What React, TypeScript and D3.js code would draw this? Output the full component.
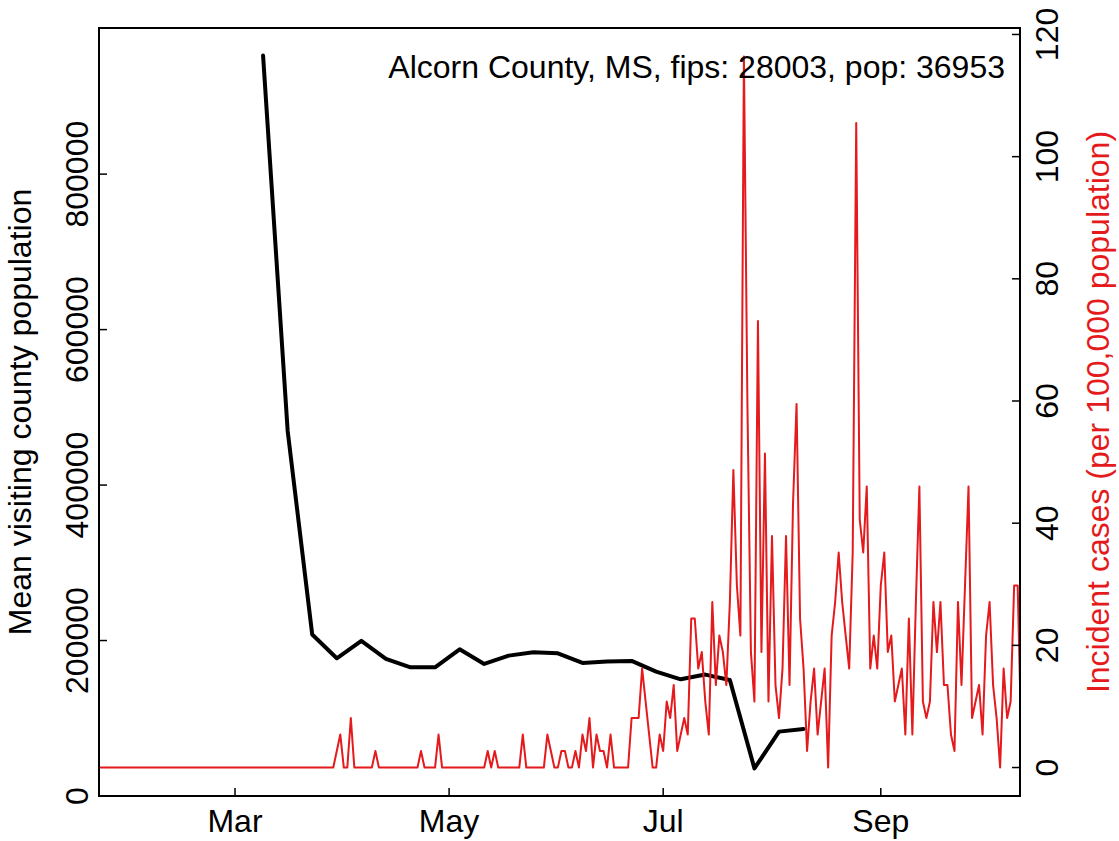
import { useEffect, useRef } from 'react';
import * as d3 from 'd3';

const WIDTH = 1119;
const HEIGHT = 841;

// weekly mean visiting county population (black line)
const visitDates = [
  '2020-03-09', '2020-03-16', '2020-03-23', '2020-03-30', '2020-04-06', '2020-04-13',
  '2020-04-20', '2020-04-27', '2020-05-04', '2020-05-11', '2020-05-18', '2020-05-25',
  '2020-06-01', '2020-06-08', '2020-06-15', '2020-06-22', '2020-06-29', '2020-07-06',
  '2020-07-13', '2020-07-20', '2020-07-27', '2020-08-03', '2020-08-10',
];
const visitValues = [
  952500, 470000, 207700, 177200, 199600, 176400,
  165600, 165600, 188700, 169900, 180600, 184900,
  183600, 171200, 172900, 173800, 160000, 150100,
  156200, 149300, 35500, 82800, 86300,
];

// daily incident cases per 100,000 (red line), first day below
const caseStart = '2020-01-22';
const caseValues = [
  // Jan 22 - Mar 29
  0, 0, 0, 0, 0, 0, 0, 0, 0, 0, 0, 0, 0, 0, 0, 0, 0, 0, 0, 0,
  0, 0, 0, 0, 0, 0, 0, 0, 0, 0, 0, 0, 0, 0, 0, 0, 0, 0, 0, 0,
  0, 0, 0, 0, 0, 0, 0, 0, 0, 0, 0, 0, 0, 0, 0, 0, 0, 0, 0, 0,
  0, 0, 0, 0, 0, 0, 0, 0,
  // Mar 30 onwards
  2.7, 5.4, 0, 0, 8.1, 0, 0, 0, 0, 0, 0, 2.7,
  0, 0, 0, 0, 0, 0, 0, 0, 0, 0, 0, 0, 2.7,
  0, 0, 0, 0, 5.4,
  0, 0, 0, 0, 0, 0, 0, 0, 0, 0, 0, 0, 0, 2.7, 0, 2.7,
  0, 0, 0, 0, 0, 0, 0, 5.4,
  0, 0, 0, 0, 0, 0, 5.4, 2.7, 0, 0, 2.7, 2.7, 0, 0, 2.7, 0,
  5.4, 2.7, 8.1, 0, 5.4, 2.7, 2.7, 0, 5.4,
  0, 0, 0, 0, 0, 8.1, 8.1, 8.1, 16.2, 10.8, 5.4, 0, 0,
  5.4, 2.7, 10.8, 8.1, 13.5, 2.7, 5.4, 8.1, 5.4, 24.4, 24.4, 16.2, 18.9, 10.8, 5.4,
  27.1, 13.5, 21.6, 18.9, 13.5, 27.1, 48.7, 29.8, 21.6, 116.4, 59.5, 18.9, 10.8,
  73.1, 18.9, 51.4, 10.8, 37.9, 13.5, 8.1, 16.2, 37.9, 13.5, 43.3, 59.5,
  24.4, 16.2, 2.7, 10.8, 16.2, 5.4, 10.8, 16.2, 0, 21.6, 27.1, 35.2, 27.1,
  21.6, 16.2, 35.2, 105.5, 40.6, 35.2, 46.0, 16.2, 21.6, 16.2, 29.8, 35.2,
  18.9, 21.6, 10.8, 13.5, 16.2, 5.4, 24.4, 5.4, 27.1, 46.0, 10.8, 8.1,
  10.8, 27.1, 18.9, 27.1, 13.5, 13.5, 5.4, 2.7, 27.1, 13.5, 29.8, 46.0,
  8.1, 10.8, 13.5, 5.4, 21.6, 27.1, 13.5, 8.1, 0, 16.2, 8.1, 10.8,
  29.8, 29.8, 5.4,
];

const leftTicks = [0, 200000, 400000, 600000, 800000];
const rightTicks = [0, 20, 40, 60, 80, 100, 120];
const monthTicks = ['2020-03-01', '2020-05-01', '2020-07-01', '2020-09-01'];
const monthLabels = ['Mar', 'May', 'Jul', 'Sep'];
const legendText = 'Alcorn County, MS, fips: 28003, pop: 36953';
const leftTitle = 'Mean visiting county population';
const rightTitle = 'Incident cases (per 100,000 population)';

const RED = '#e41a1c';
const FONT = '"Liberation Sans", Arial, Helvetica, sans-serif';
const FS = 32;

export default function App() {
  const svgRef = useRef<SVGSVGElement>(null);

  useEffect(() => {
    if (!svgRef.current) return;
    const svg = d3.select(svgRef.current);
    svg.selectAll('*').remove();

    const left = 99;
    const right = 1020;
    const top = 28;
    const bottom = 796;

    const x = d3
      .scaleUtc()
      .domain([new Date(Date.UTC(2020, 0, 22, 6)), new Date(Date.UTC(2020, 9, 10, 16))])
      .range([left, right]);
    const yLeft = d3.scaleLinear().domain([0, 988000]).range([bottom, top]);
    const yRight = d3.scaleLinear().domain([-4.66, 121.06]).range([bottom, top]);

    svg.append('rect').attr('width', WIDTH).attr('height', HEIGHT).attr('fill', '#fff');

    svg
      .append('clipPath')
      .attr('id', 'plot-clip')
      .append('rect')
      .attr('x', left)
      .attr('y', top)
      .attr('width', right - left)
      .attr('height', bottom - top);

    const plot = svg.append('g').attr('clip-path', 'url(#plot-clip)');

    // black: mean visiting population
    const visits = visitDates.map((d, i) => ({ date: new Date(d + 'T00:00:00Z'), value: visitValues[i] }));
    const blackLine = d3
      .line<{ date: Date; value: number }>()
      .x((d) => x(d.date))
      .y((d) => yLeft(d.value));
    plot
      .append('path')
      .datum(visits)
      .attr('d', blackLine)
      .attr('fill', 'none')
      .attr('stroke', '#000')
      .attr('stroke-width', 4)
      .attr('stroke-linejoin', 'round')
      .attr('stroke-linecap', 'round');

    // red: incident cases
    const start = new Date(caseStart + 'T00:00:00Z');
    const cases = caseValues.map((v, i) => ({ date: d3.utcDay.offset(start, i), value: v }));
    const redLine = d3
      .line<{ date: Date; value: number }>()
      .x((d) => x(d.date))
      .y((d) => yRight(d.value));
    plot
      .append('path')
      .datum(cases)
      .attr('d', redLine)
      .attr('fill', 'none')
      .attr('stroke', RED)
      .attr('stroke-width', 2)
      .attr('stroke-linejoin', 'round');

    // frame
    svg
      .append('rect')
      .attr('x', left)
      .attr('y', top)
      .attr('width', right - left)
      .attr('height', bottom - top)
      .attr('fill', 'none')
      .attr('stroke', '#000')
      .attr('stroke-width', 2);

    const text = (g: d3.Selection<SVGGElement, unknown, null, undefined>) =>
      g.attr('font-family', FONT).attr('font-size', FS);

    // left axis
    const la = svg.append('g').call(text);
    leftTicks.forEach((t) => {
      const yy = yLeft(t);
      la.append('line').attr('x1', left).attr('x2', left + 8).attr('y1', yy).attr('y2', yy)
        .attr('stroke', '#000').attr('stroke-width', 1.5);
      la.append('text')
        .attr('transform', `translate(87.5,${yy}) rotate(-90)`)
        .attr('text-anchor', 'middle')
        .text(String(t));
    });
    la.append('text')
      .attr('transform', `translate(31,${(top + bottom) / 2}) rotate(-90)`)
      .attr('text-anchor', 'middle')
      .text(leftTitle);

    // right axis
    const ra = svg.append('g').call(text);
    rightTicks.forEach((t) => {
      const yy = yRight(t);
      ra.append('line').attr('x1', right - 8).attr('x2', right).attr('y1', yy).attr('y2', yy)
        .attr('stroke', '#000').attr('stroke-width', 1.5);
      ra.append('text')
        .attr('transform', `translate(1058,${yy}) rotate(-90)`)
        .attr('text-anchor', 'middle')
        .text(String(t));
    });
    ra.append('text')
      .attr('transform', `translate(1109,${(top + bottom) / 2}) rotate(-90)`)
      .attr('text-anchor', 'middle')
      .attr('fill', RED)
      .text(rightTitle);

    // bottom axis
    const ba = svg.append('g').call(text);
    monthTicks.forEach((m, i) => {
      const xx = x(new Date(m + 'T00:00:00Z'));
      ba.append('line').attr('x1', xx).attr('x2', xx).attr('y1', bottom - 8).attr('y2', bottom)
        .attr('stroke', '#000').attr('stroke-width', 1.5);
      ba.append('text').attr('x', xx).attr('y', 832).attr('text-anchor', 'middle').text(monthLabels[i]);
    });

    // legend label
    svg.append('text')
      .attr('x', 1005)
      .attr('y', 78)
      .attr('text-anchor', 'end')
      .attr('font-family', FONT)
      .attr('font-size', FS)
      .text(legendText);
  }, []);

  return (
    <svg
      ref={svgRef}
      width={WIDTH}
      height={HEIGHT}
      viewBox={`0 0 ${WIDTH} ${HEIGHT}`}
      style={{ position: 'absolute', left: 0, top: 0, display: 'block' }}
    />
  );
}
